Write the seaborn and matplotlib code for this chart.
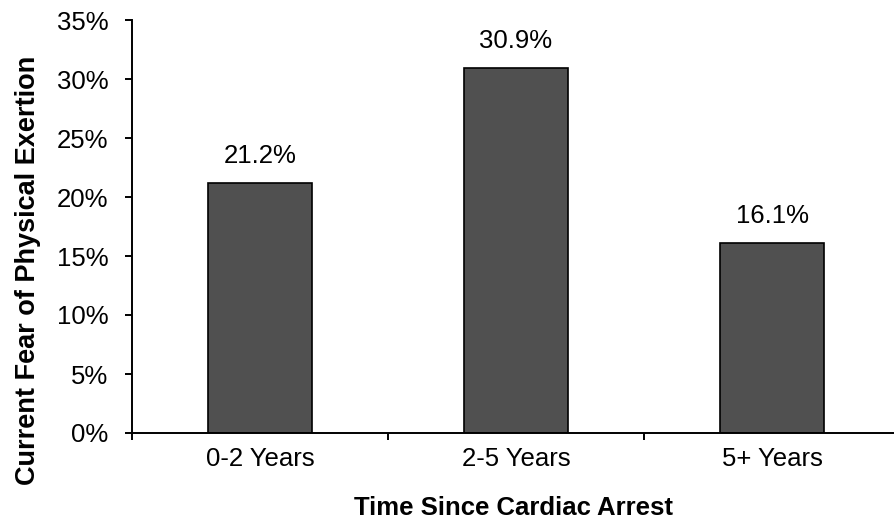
import matplotlib
matplotlib.use("Agg")
import matplotlib.pyplot as plt
import pandas as pd
import seaborn as sns
from matplotlib.ticker import FixedLocator, PercentFormatter

categories = ["0-2 Years", "2-5 Years", "5+ Years"]
fear_pct = [21.2, 30.9, 16.1]

df = pd.DataFrame({"time": categories, "fear": fear_pct})

sns.set_theme(style="ticks")
plt.rcParams["font.family"] = ["Liberation Sans", "DejaVu Sans"]
plt.rcParams["text.color"] = "black"

fig = plt.figure(figsize=(8.94, 5.2), dpi=100)
ax = fig.add_axes([132 / 894, 87 / 520, 768 / 894, 413 / 520])

sns.barplot(data=df, x="time", y="fear", color="#505050", saturation=1,
            width=0.406, edgecolor="black", linewidth=1.2, ax=ax)

ax.set_xlim(-0.5, 2.5)
ax.set_ylim(0, 35)
ax.set_yticks(range(0, 36, 5))
ax.yaxis.set_major_formatter(PercentFormatter(decimals=0))
ax.set_xticks([0, 1, 2])
ax.set_xticklabels(categories)
ax.tick_params(axis="x", which="major", length=0, labelsize=18.5, pad=10, colors="black")
ax.xaxis.set_minor_locator(FixedLocator([-0.5, 0.5, 1.5, 2.5]))
ax.tick_params(axis="x", which="minor", length=5, width=1.4, direction="out", color="black")
ax.tick_params(axis="y", length=5, width=1.4, direction="out", labelsize=18.5, pad=12, colors="black")

for spine in ["top", "right"]:
    ax.spines[spine].set_visible(False)
for spine in ["left", "bottom"]:
    ax.spines[spine].set_linewidth(1.4)
    ax.spines[spine].set_color("black")

for i, v in enumerate(fear_pct):
    ax.text(i, v + 1.7, f"{v:.1f}%", ha="center", va="baseline", fontsize=18.5, color="black")

ax.set_xlabel("Time Since Cardiac Arrest", fontsize=18.5, fontweight="bold", color="black")
ax.set_ylabel("Current Fear of Physical Exertion", fontsize=19.5, fontweight="bold", color="black")
ax.xaxis.set_label_coords(0.497, (433 - 496) / 413)
ax.yaxis.set_label_coords((41 - 132) / 768, (433 - 270) / 413)

fig.savefig("out.png", dpi=100)
